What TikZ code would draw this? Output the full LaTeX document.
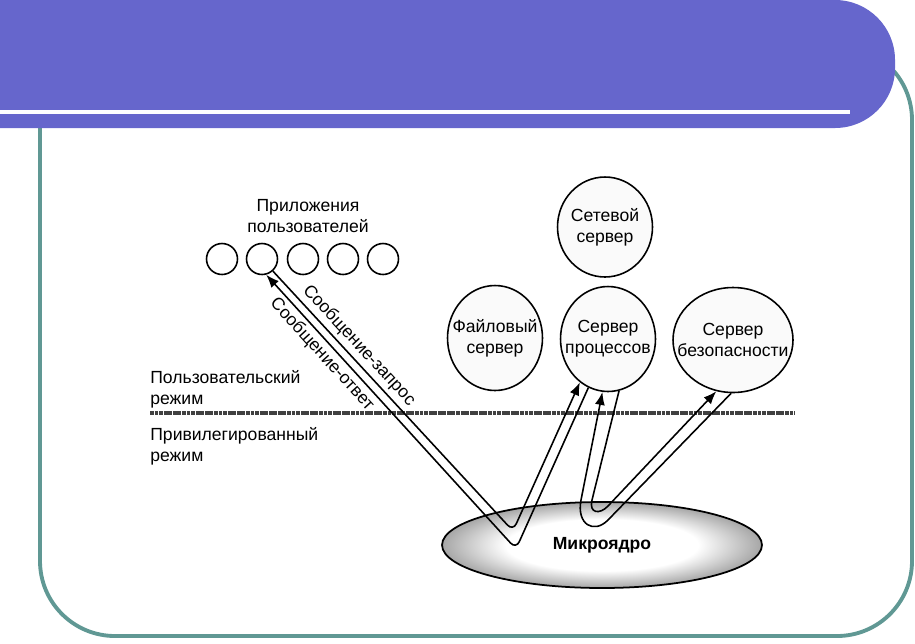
\documentclass[tikz,border=0pt]{standalone}
\usepackage{fontspec}
\setmainfont{Liberation Sans}
\usetikzlibrary{shapes.geometric,arrows.meta}

\definecolor{headerblue}{RGB}{102,102,204}
\definecolor{frameteal}{RGB}{96,152,148}

% light in the middle, grey towards the rim
\pgfdeclareradialshading{kernshade}{\pgfpointorigin}{color(0bp)=(white); color(15bp)=(white); color(25bp)=(gray!70); color(50bp)=(gray!70)}

\tikzset{
  app/.style={draw, circle, minimum size=0.62cm, inner sep=0pt, line width=0.9pt},
  server/.style={draw, ellipse, fill=gray!4, inner sep=0pt, line width=0.9pt,
    minimum width=1.9cm, minimum height=2.1cm},
  kernel/.style={draw, ellipse, shading=kernshade, shade, line width=1pt,
    minimum width=6.4cm, minimum height=1.72cm, font=\fontsize{10}{12}\selectfont\bfseries},
  msg/.style={line width=0.9pt, -{Latex[length=2.6mm,width=2mm]}},
  arrowlabel/.style={sloped, inner sep=2pt},
  modetext/.style={anchor=west, align=left, inner sep=0pt},
}

\begin{document}
\begin{tikzpicture}[x=0.02cm, y=-0.02cm, font=\fontsize{10}{12}\selectfont]
\useasboundingbox (0,0) rectangle (915,643);
\clip (0,0) rectangle (915,643);

% Slide frame and title bar
\draw[frameteal, line width=2.2pt, rounded corners=1.5cm] (40,45) rectangle (912,636);
\fill[headerblue, rounded corners=1.2cm] (-80,0) rectangle (895,128);
\draw[white, line width=2.4pt] (0,112) -- (850,112);

% User applications
\node[align=center] (appsLbl) at (308,216) {Приложения\\пользователей};
\foreach \i/\x in {1/222,2/262,3/303,4/343,5/383}
  \node[app] (app\i) at (\x,259) {};

% Servers
\node[server, minimum height=2cm, label={[align=center]center:Сетевой\\сервер}] (net) at (605,227) {};
\node[server, label={[align=center]center:Файловый\\сервер}] (file) at (495,338) {};
\node[server, label={[align=center]center:Сервер\\процессов}] (proc) at (608,339) {};
\node[server, minimum width=2.4cm, label={[align=center]center:Сервер\\безопасности}] (sec) at (733,340) {};

% User mode / privileged mode
\node[modetext] (userMode) at (150,389) {Пользовательский\\режим};
\node[modetext] (privMode) at (150,446) {Привилегированный\\режим};
\coordinate (modeL) at (150,413);
\coordinate (modeR) at (795,413);
\draw[gray!50!black, line width=1.8pt, dash pattern=on 2.2pt off 0.4pt] (modeL) -- (modeR);

% Kernel
\node[kernel] (kern) at (602,545) {Микроядро};

% Bends of the message paths
\coordinate (vIn) at (513,531);
\coordinate (vOut) at (516,549);
\coordinate (uInL) at (592,500);
\coordinate (uInR) at (608,506);
\coordinate (uOutL) at (581,500);
\coordinate (uOutR) at (608,520);

% request and reply
\draw[msg, rounded corners=0.16cm] (app2.-48) -- node[arrowlabel, above, pos=0.32] {Сообщение-запрос} (vIn) -- (proc.-123);
\draw[msg, rounded corners=0.16cm] (proc.-112) -- (vOut) -- node[arrowlabel, below, pos=0.74] {Сообщение-ответ} (app2.-75);

% process server <-> security server
\draw[msg] (proc.-78) -- (uInL) .. controls (588.7,513.6) and (599.8,514.7) .. (uInR) -- (sec.-108);
\draw[msg] (sec.-92) -- (uOutR) .. controls (594,534.3) and (576.3,524.6) .. (uOutL) -- (proc.-96);
\end{tikzpicture}
\end{document}
